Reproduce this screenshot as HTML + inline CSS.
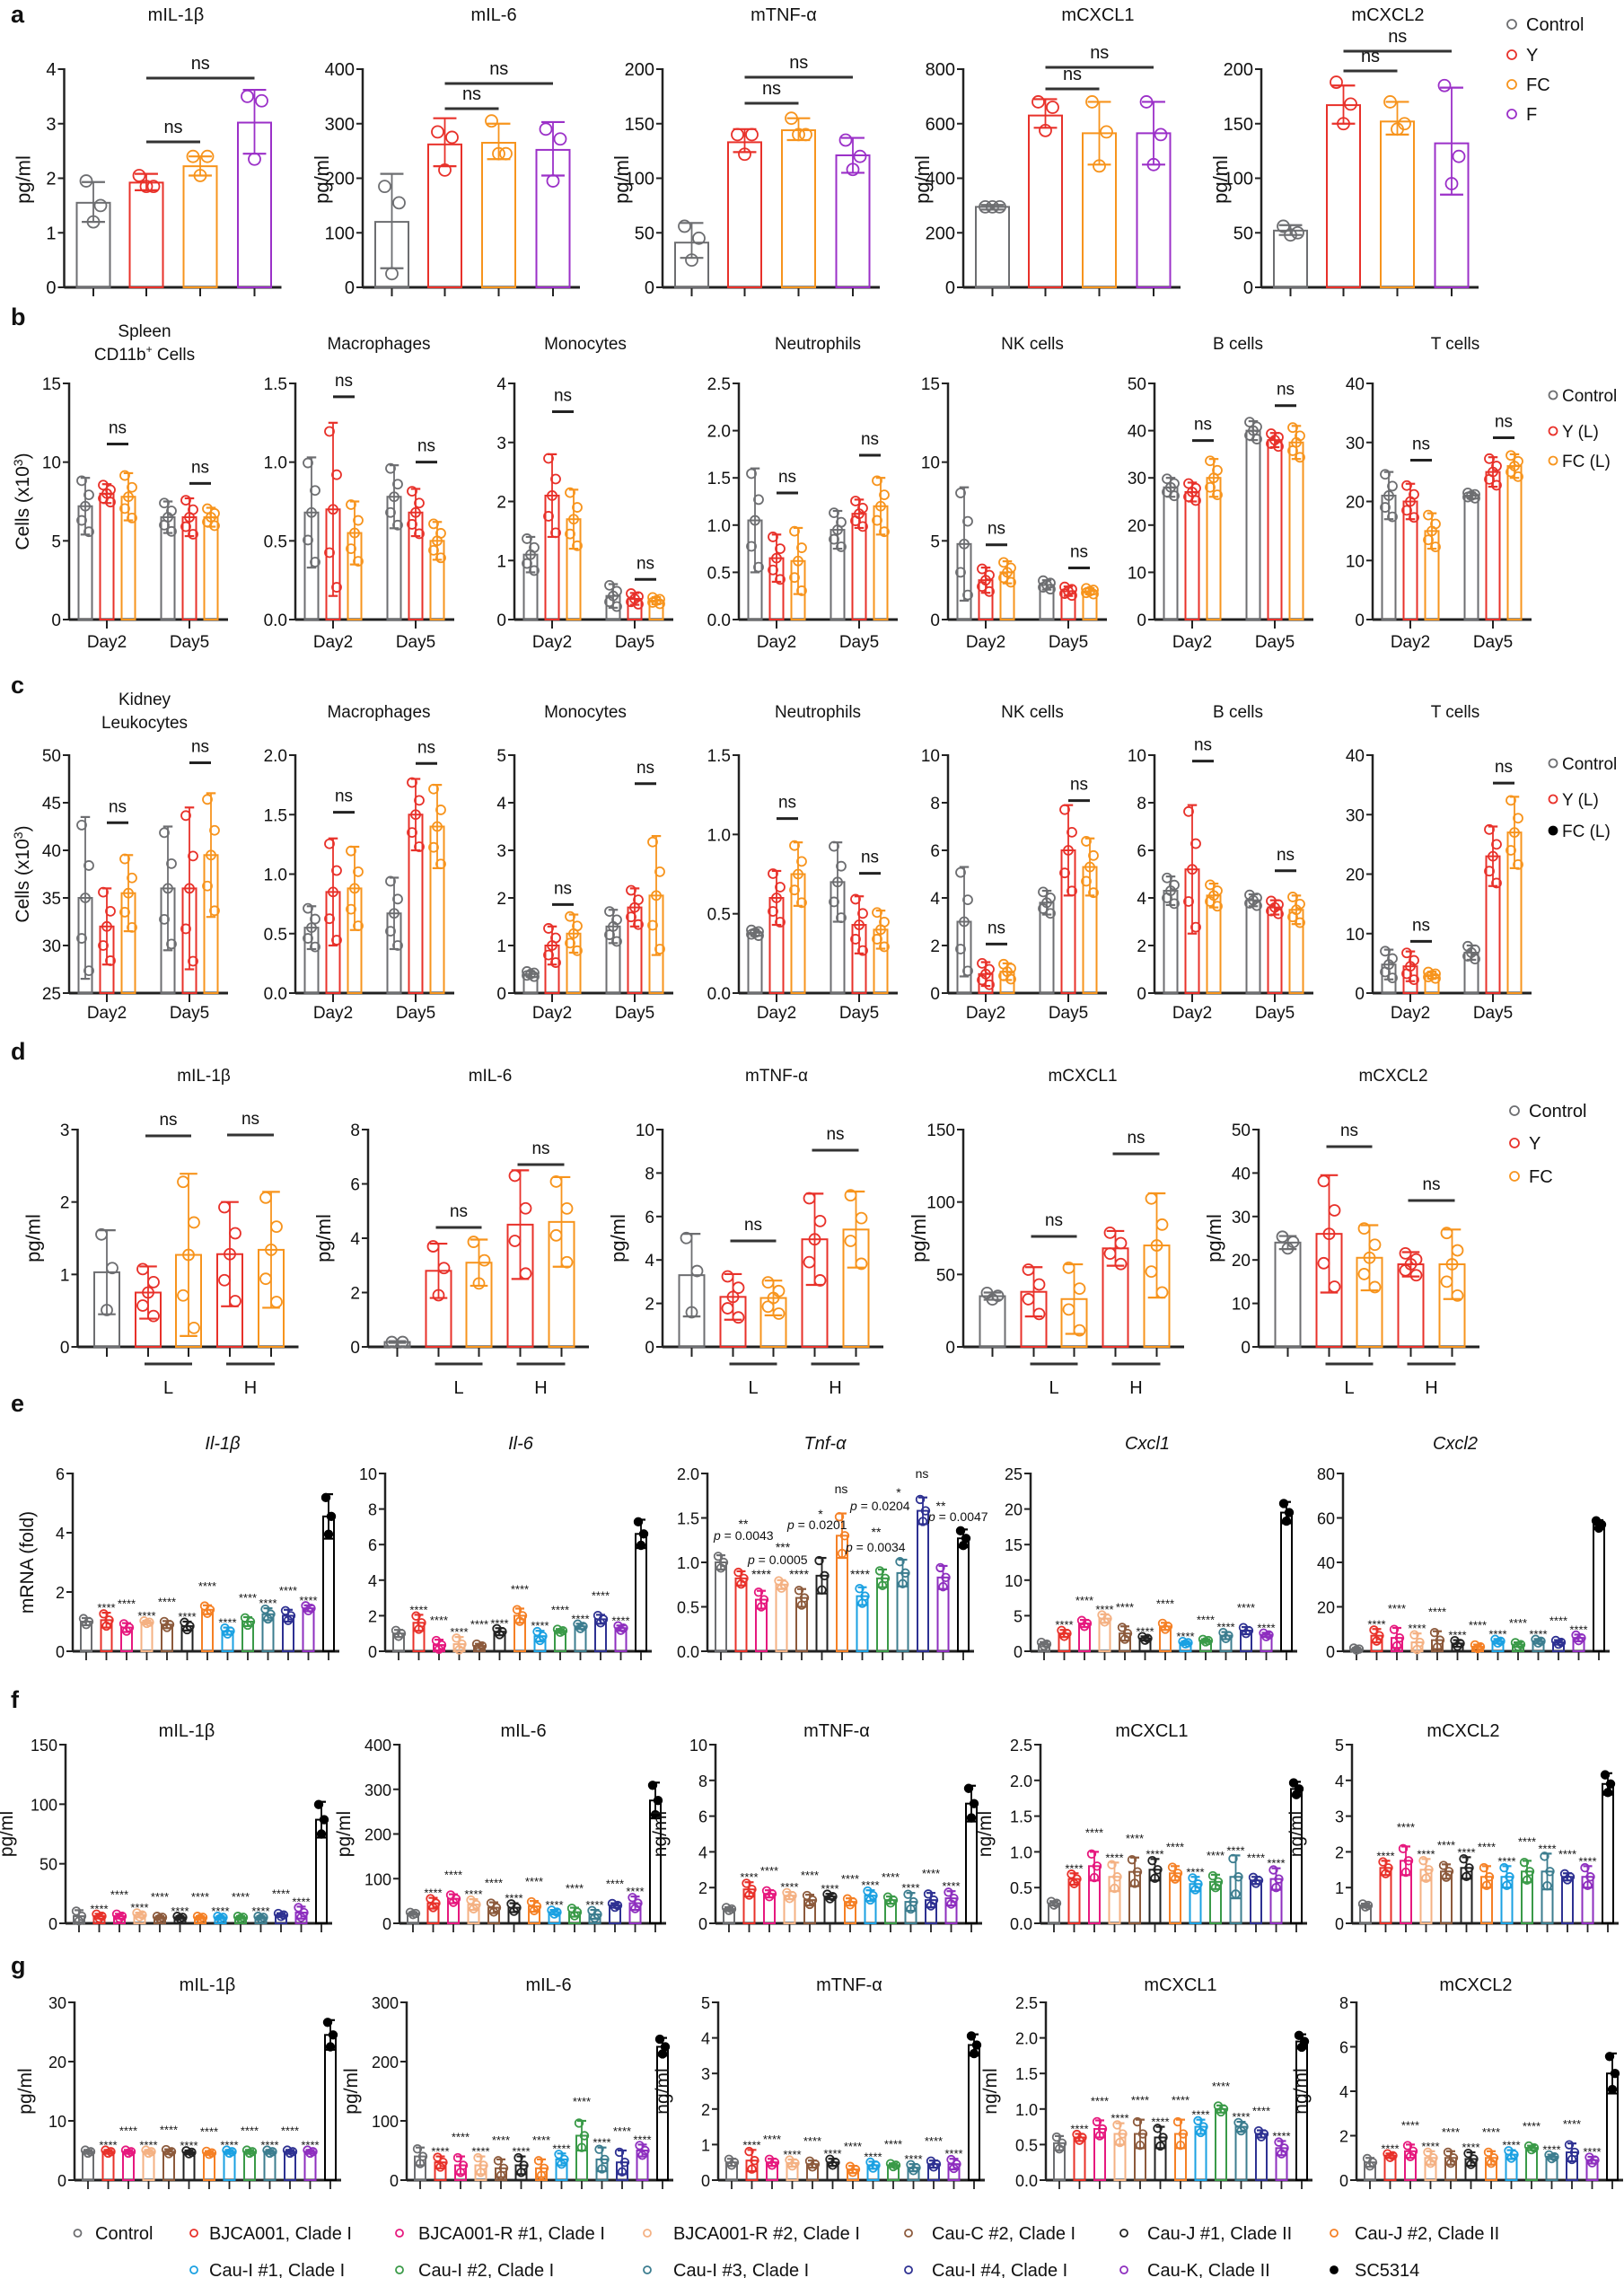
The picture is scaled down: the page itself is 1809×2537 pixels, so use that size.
<!DOCTYPE html>
<html><head><meta charset="utf-8">
<style>
html,body{margin:0;padding:0;background:#fff;}
svg{display:block;}
text{font-family:"Liberation Sans",Arial,sans-serif;fill:#111;}
</style></head>
<body>
<div id="root"></div>
<script>
const S=[];
function ln(x1,y1,x2,y2,c,w){S.push(`<line x1="${x1}" y1="${y1}" x2="${x2}" y2="${y2}" stroke="${c||'#222'}" stroke-width="${w||2}"/>`);}
function tx(x,y,s,o){o=o||{};S.push(`<text x="${x}" y="${y}" font-size="${o.fs||19}" text-anchor="${o.a||'middle'}"${o.it?' font-style="italic"':''}${o.b?' font-weight="bold"':''}${o.rot?` transform="rotate(-90 ${x} ${y})"`:''}>${s}</text>`);}
function ci(x,y,r,c,f){S.push(`<circle cx="${x}" cy="${y}" r="${r}" fill="${f?c:'none'}" stroke="${c}" stroke-width="1.8"/>`);}
function axes(P){
  const Y=v=>P.bot-(v-P.min)/(P.max-P.min)*(P.bot-P.top);
  P.Y=Y;
  ln(P.ax,P.top-1,P.ax,P.bot,'#222',2.5);
  ln(P.ax,P.bot,P.right,P.bot,'#222',3);
  P.ticks.forEach(t=>{const y=Y(t);ln(P.ax-7,y,P.ax,y,'#222',2);tx(P.ax-9,y+7,t.toFixed(P.dec||0),{a:'end',fs:P.fs||19});});
}
function bar(P,x,w,v,lo,hi,c,pts,r,fill,xj){
  const Y=P.Y;const y=Y(v);
  S.push(`<rect x="${x-w/2}" y="${y}" width="${w}" height="${P.bot-y}" fill="none" stroke="${c}" stroke-width="2"/>`);
  lo=Math.max(lo,P.min);
  ln(x,Y(hi),x,Y(lo),c,1.8);const cw=Math.max(w*0.35,5);
  ln(x-cw,Y(hi),x+cw,Y(hi),c,2.2);ln(x-cw,Y(lo),x+cw,Y(lo),c,2.2);
  pts.forEach((p,i)=>ci(x+(xj?xj[i]:0),Y(Math.max(p,P.min)),r,c,fill));
}
function gp(v,e,n){const f={2:[0,0],3:[0.9,0.1,-0.9],4:[0.9,0.3,-0.3,-0.9],5:[0.9,0.4,0,-0.5,-0.9]}[n];return f.map(k=>v+k*e);}
function gj(n,s){return ({2:[-1,1],3:[-1,1,0],4:[-1,1,-1,1],5:[-1,1,0,-1,1]}[n]).map(k=>k*s);}
function range(a,b,s){const r=[];for(let v=a;v<=b+1e-9;v+=s)r.push(Math.round(v*1000)/1000);return r;}

// letters
[['a',25],['b',362],['c',772],['d',1180],['e',1572],['f',1902],['g',2198]].forEach(([l,y])=>tx(12,y,l,{a:'start',fs:27,b:1}));

// ===== Row a =====
const CA=['#6d6e71','#e8312a','#f7941d','#9b30c8'];
const A=[
 {ax:71.5,min:0,max:4,ticks:range(0,4,1),t:'mIL-1β',tx:196,br:[158,87],
  b:[[1.55,1.2,1.93,[1.95,1.5,1.2]],[1.92,1.78,2.08,[2.05,1.85,1.85]],[2.22,2.05,2.4,[2.4,2.4,2.05]],[3.02,2.45,3.62,[3.5,3.42,2.35]]]},
 {ax:404,min:0,max:400,ticks:range(0,400,100),t:'mIL-6',tx:550,br:[121,93],
  b:[[120,35,208,[185,155,25]],[262,222,310,[285,275,215]],[265,235,300,[305,245,245]],[252,205,303,[290,272,195]]]},
 {ax:738,min:0,max:200,ticks:range(0,200,50),t:'mTNF-α',tx:873,br:[115,86],
  b:[[41,27,59,[56,45,25]],[133,124,145,[140,140,122]],[144,135,155,[155,140,140]],[121,105,137,[135,120,108]]]},
 {ax:1073,min:0,max:800,ticks:range(0,800,200),t:'mCXCL1',tx:1223,br:[99,75],
  b:[[295,285,302,[295,295,295]],[630,585,690,[680,660,575]],[565,450,680,[680,570,445]],[565,450,680,[680,560,450]]]},
 {ax:1405,min:0,max:200,ticks:range(0,200,50),t:'mCXCL2',tx:1546,br:[79,57],
  b:[[52,48,57,[56,50,48]],[167,150,185,[188,168,150]],[152,140,170,[170,150,145]],[132,85,183,[185,120,95]]]}
];
const aOff=[32.5,91.5,151.5,212];
A.forEach(p=>{
  const P={ax:p.ax,top:77,bot:320,right:p.ax+242,min:p.min,max:p.max,ticks:p.ticks,fs:20};
  axes(P);
  tx(p.tx,23,p.t,{fs:20});
  tx(p.ax-38,200,'pg/ml',{rot:1,fs:22});
  p.b.forEach((d,i)=>{const x=p.ax+aOff[i];ln(x,320,x,330,'#222',2);bar(P,x,37,d[0],d[1],d[2],CA[i],d[3],6.5,false,[-8,8,0]);});
  const x1=p.ax+aOff[1],x2=p.ax+aOff[2],x3=p.ax+aOff[3];
  ln(x1,p.br[0],x2,p.br[0],'#333',3);tx((x1+x2)/2,p.br[0]-10,'ns',{fs:20});
  ln(x1,p.br[1],x3,p.br[1],'#333',3);tx((x1+x3)/2,p.br[1]-10,'ns',{fs:20});
});
[['Control',27,CA[0]],['Y',61,CA[1]],['FC',94,CA[2]],['F',127,CA[3]]].forEach(([s,y,c])=>{ci(1684,y,5,c);tx(1700,y+7,s,{a:'start',fs:20});});

// ===== Rows b, c =====
const BC=['#6d6e71','#e8312a','#f7941d'];
const bAx=[77,329,573,823,1056,1286,1529];
const bT=[161,422,652,911,1150,1379,1621];
const B=[
 {min:0,max:15,ticks:range(0,15,5),d:[[[7.2,1.8],[8.0,0.6],[7.8,1.5]],[[6.5,1.0],[6.5,1.2],[6.5,0.6]]],br:[11.15,8.65]},
 {min:0,max:1.5,ticks:range(0,1.5,.5),dec:1,d:[[[0.68,0.35],[0.7,0.55],[0.55,0.2]],[[0.78,0.2],[0.68,0.15],[0.5,0.12]]],br:[1.415,1.0]},
 {min:0,max:4,ticks:range(0,4,1),d:[[[1.1,0.3],[2.1,0.7],[1.7,0.5]],[[0.4,0.2],[0.35,0.1],[0.32,0.06]]],br:[3.52,0.68]},
 {min:0,max:2.5,ticks:range(0,2.5,.5),dec:1,d:[[[1.05,0.55],[0.65,0.25],[0.62,0.35]],[[0.95,0.2],[1.12,0.15],[1.2,0.3]]],br:[1.34,1.74]},
 {min:0,max:15,ticks:range(0,15,5),d:[[[4.8,3.6],[2.5,0.8],[3.0,0.7]],[[2.2,0.3],[1.8,0.3],[1.8,0.2]]],br:[4.75,3.28]},
 {min:0,max:50,ticks:range(0,50,10),d:[[[28,2],[27,2],[30,4]],[[40,2],[38,1.5],[37.5,3.5]]],br:[37.9,45.3]},
 {min:0,max:40,ticks:range(0,40,10),d:[[[21,4],[20,3],[15,3]],[[21,0.5],[25,2.5],[26,2]]],br:[27,30.8]}
];
const C=[
 {min:25,max:50,ticks:range(25,50,5),d:[[[35,8.5],[32,4],[35.5,4]],[[36,6.5],[36,8.5],[39.5,6.5]]],br:[42.9,49.2]},
 {min:0,max:2,ticks:range(0,2,.5),dec:1,d:[[[0.55,0.18],[0.85,0.45],[0.88,0.35]],[[0.67,0.3],[1.5,0.3],[1.4,0.35]]],br:[1.52,1.93]},
 {min:0,max:5,ticks:range(0,5,1),d:[[[0.4,0.06],[1.0,0.4],[1.25,0.4]],[[1.4,0.35],[1.8,0.4],[2.05,1.25]]],br:[1.86,4.4]},
 {min:0,max:1.5,ticks:range(0,1.5,.5),dec:1,d:[[[0.38,0.02],[0.6,0.17],[0.75,0.2]],[[0.7,0.25],[0.43,0.18],[0.4,0.12]]],br:[1.1,0.755]},
 {min:0,max:10,ticks:range(0,10,2),d:[[[3.0,2.3],[0.8,0.5],[0.9,0.35]],[[3.8,0.5],[6.0,1.9],[5.3,1.2]]],br:[2.06,8.09]},
 {min:0,max:10,ticks:range(0,10,2),d:[[[4.3,0.6],[5.2,2.7],[4.1,0.5]],[[3.9,0.25],[3.6,0.3],[3.5,0.6]]],br:[9.75,5.14]},
 {min:0,max:40,ticks:range(0,40,10),d:[[[4.8,2.5],[4.5,2.5],[3.0,0.6]],[[6.8,1.2],[23,5],[27,6]]],br:[8.7,35.3]}
];
const bOff=[18,42,66,110,134,158];
function rowBC(D,top,bot,ty,dy,titles,ylab){
  D.forEach((p,k)=>{
    const ax=bAx[k];
    const P={ax:ax,top:top,bot:bot,right:ax+177,min:p.min,max:p.max,ticks:p.ticks,dec:p.dec,fs:19};
    axes(P);
    if(titles[k].length==2){tx(bT[k],ty-14,titles[k][0]);tx(bT[k],ty+12,titles[k][1]);}
    else tx(bT[k],ty,titles[k][0]);
    [0,1].forEach(g=>{
      const gc=ax+(g?134:42);ln(gc,bot,gc,bot+10,'#222',2);tx(gc,dy,g?'Day5':'Day2');
      p.d[g].forEach((d,i)=>{const x=ax+bOff[g*3+i];bar(P,x,15,d[0],d[0]-d[1],d[0]+d[1],BC[i],gp(d[0],d[1],5),5,false,gj(5,4));});
      const x1=ax+bOff[g*3+1],x2=ax+bOff[g*3+2];const y=P.Y(p.br[g]);
      ln(x1,y,x2,y,'#222',3);tx((x1+x2)/2,y-12,'ns');
    });
  });
  tx(32,(top+bot)/2,ylab,{rot:1,fs:21});
}
rowBC(B,427,690,389,721,[['Spleen','CD11b<tspan font-size="12" dy="-8">+</tspan><tspan dy="8"> Cells</tspan>'],['Macrophages'],['Monocytes'],['Neutrophils'],['NK cells'],['B cells'],['T cells']],'Cells (x10<tspan font-size="14" dy="-7">3</tspan><tspan dy="7">)</tspan>');
rowBC(C,841,1106,799,1134,[['Kidney','Leukocytes'],['Macrophages'],['Monocytes'],['Neutrophils'],['NK cells'],['B cells'],['T cells']],'Cells (x10<tspan font-size="14" dy="-7">3</tspan><tspan dy="7">)</tspan>');
[['Control',440,BC[0],0],['Y (L)',480,BC[1],0],['FC (L)',513,BC[2],0]].forEach(([s,y,c])=>{ci(1730,y,4.5,c);tx(1740,y+7,s,{a:'start'});});
[['Control',850,BC[0],0],['Y (L)',890,BC[1],0],['FC (L)',925,'#000',1]].forEach(([s,y,c,f])=>{ci(1730,y,4.5,c,f);tx(1740,y+7,s,{a:'start'});});

// ===== Row d =====
const DC=['#6d6e71','#e8312a','#f7941d','#e8312a','#f7941d'];
const dAx=[86.5,410,738,1073,1402],dT=[227,546,865,1206,1552],dTit=['mIL-1β','mIL-6','mTNF-α','mCXCL1','mCXCL2'];
const D=[
 {min:0,max:3,ticks:range(0,3,1),d:[[1.03,0.58,3],[0.75,0.36,5],[1.27,1.12,5],[1.28,0.72,5],[1.34,0.8,5]],br:[1265,1264]},
 {min:0,max:8,ticks:range(0,8,2),d:[[0.18,0.03,2],[2.8,1.0,3],[3.1,0.85,3],[4.5,2.0,4],[4.6,1.65,4]],br:[1367,1297]},
 {min:0,max:10,ticks:range(0,10,2),d:[[3.3,1.9,3],[2.3,1.05,5],[2.25,0.8,5],[4.95,2.1,5],[5.4,1.75,4]],br:[1382,1281]},
 {min:0,max:150,ticks:range(0,150,50),d:[[35,2.5,3],[38,17,4],[33,24,4],[68,12,4],[70,36,5]],br:[1377,1285]},
 {min:0,max:50,ticks:range(0,50,10),d:[[24,1.5,3],[26,13.5,5],[20.5,7.5,5],[19,2.8,5],[19,8,5]],br:[1277,1337]}
];
const dOff=[32.5,78.5,123.5,169.5,215.5];
D.forEach((p,k)=>{
  const ax=dAx[k];
  const P={ax:ax,top:1258,bot:1500,right:ax+246,min:p.min,max:p.max,ticks:p.ticks,fs:19};
  axes(P);tx(dT[k],1204,dTit[k]);tx(ax-42,1379,'pg/ml',{rot:1,fs:22});
  p.d.forEach((d,i)=>{const x=ax+dOff[i];ln(x,1500,x,1511,'#222',2);bar(P,x,28,d[0],d[0]-d[1],d[0]+d[1],DC[i],gp(d[0],d[1],d[2]),6,false,gj(d[2],6));});
  [[1,2,'L'],[3,4,'H']].forEach(([i,j,l],g)=>{
    const x1=ax+dOff[i]-4,x2=ax+dOff[j]+4;ln(x1,1519,x2,1519,'#333',3);tx((x1+x2)/2,1552,l,{fs:20});
    const y=p.br[g];const a1=ax+dOff[i]-3,a2=ax+dOff[j]+3;ln(a1,y,a2,y,'#333',3);tx((a1+a2)/2,y-12,'ns');
  });
});
[['Control',1237,DC[0]],['Y',1273,DC[1]],['FC',1310,DC[2]]].forEach(([s,y,c])=>{ci(1687,y,5,c);tx(1703,y+7,s,{a:'start',fs:20});});

// ===== Rows e, f, g =====
const SC=['#6d6e71','#e8312a','#e6197e','#f4b183','#8c5a3c','#222222','#f58025','#1ba1e2','#3a9a48','#3c7d8f','#2e3192','#8e2fbf','#000000'];
function row13(axs,top,bot,titles,tys,txs,defs,ylabs,it){
  defs.forEach((p,k)=>{
    const ax=axs[k];
    const P={ax:ax,top:top,bot:bot,right:ax+297,min:p.min,max:p.max,ticks:p.ticks,dec:p.dec,fs:18};
    axes(P);tx(txs[k],tys,titles[k],{fs:20,it:it});
    if(ylabs[k])tx(ylabs[k][1]!=null?ylabs[k][1]:ax-55,(top+bot)/2,ylabs[k][0],{rot:1,fs:21});
    p.d.forEach((d,i)=>{
      const x=ax+15+22.5*i;ln(x,bot,x,bot+10,'#222',1.8);
      const c=SC[i];const last=i==12;
      bar(P,x,12,d[0],d[0]-d[1],d[0]+d[1],c,[d[0]+d[1]*0.85,d[0],d[0]-d[1]*0.8],4.3,last,[-3,3,0]);
      if(!p.noStar&&i>0&&i<12){const y=P.Y(d[0]+d[1])-7-(i%2==0?16:0);tx(x,y+6,'****',{fs:13});}
    });
  });
}
row13([81,429,788,1148,1496],1641,1839,['Il-1β','Il-6','Tnf-α','Cxcl1','Cxcl2'],1614,[248,580,919,1278,1621],[
 {min:0,max:6,ticks:range(0,6,2),d:[[1,.12],[1.05,.25],[0.8,.15],[0.98,.05],[0.9,.12],[0.85,.15],[1.4,.15],[0.68,.12],[1.0,.15],[1.25,.2],[1.2,.2],[1.45,.1],[4.55,.75]]},
 {min:0,max:10,ticks:range(0,10,2),d:[[1,.2],[1.6,.45],[0.35,.3],[0.4,.4],[0.3,.12],[1.1,.2],[2.0,.4],[0.85,.3],[1.15,.1],[1.4,.15],[1.8,.25],[1.3,.15],[6.6,.8]]},
 {min:0,max:2,ticks:range(0,2,.5),dec:1,noStar:1,d:[[1.0,.08],[0.82,.08],[0.58,.1],[0.75,.05],[0.6,.1],[0.85,.2],[1.3,.25],[0.62,.1],[0.82,.1],[0.88,.15],[1.58,.15],[0.83,.13],[1.27,.1]]},
 {min:0,max:25,ticks:range(0,25,5),d:[[1,.3],[2.5,.5],[3.9,.5],[4.6,.6],[2.5,1.0],[1.8,.3],[3.5,.5],[1.2,.2],[1.5,.2],[2.2,.5],[2.9,.5],[2.3,.3],[19.5,1.5]]},
 {min:0,max:80,ticks:range(0,80,20),d:[[1,.5],[7,3],[6,4.5],[4,4],[5,4],[3.5,1.5],[2,1],[4.5,1],[3,1],[4.5,1],[4,1],[6,1.5],[57,2]]}
],[['mRNA (fold)',37],null,null,null,null],true);
// Tnf-a annotations
[[828,1702,'**'],[795,1715,'p = 0.0043','s'],[872,1728,'***'],[833,1742,'p = 0.0005','s'],[848,1758,'****'],[890,1758,'****'],
 [914,1691,'*'],[877,1703,'p = 0.0201','s'],[937,1663,'ns'],[958,1758,'****'],[976,1711,'**'],[942,1728,'p = 0.0034','s'],
 [1001,1667,'*'],[947,1682,'p = 0.0204','s'],[1027,1646,'ns'],[1048,1682,'**'],[1034,1694,'p = 0.0047','s']].forEach(a=>{
  if(a[3])S.push(`<text x="${a[0]}" y="${a[1]}" font-size="14" text-anchor="start"><tspan font-style="italic">p</tspan>${a[2].slice(1)}</text>`);
  else tx(a[0],a[1],a[2],{fs:14});
});
row13([73,445,797,1159,1506],1943,2142,['mIL-1β','mIL-6','mTNF-α','mCXCL1','mCXCL2'],1934,[208,583,932,1283,1630],[
 {min:0,max:150,ticks:range(0,150,50),d:[[6,5],[6,2],[6,2],[7,2],[5,1],[5,1],[5,1],[5,1],[5,1],[5,1],[7,1.5],[9,5],[87,15]]},
 {min:0,max:400,ticks:range(0,400,100),d:[[22,3],[45,12],[55,10],[42,12],[35,12],[35,10],[38,12],[25,5],[25,10],[20,10],[40,5],[45,15],[275,40]]},
 {min:0,max:10,ticks:range(0,10,2),d:[[0.8,.1],[1.9,.4],[1.65,.2],[1.55,.2],[1.3,.3],[1.5,.15],[1.2,.2],[1.55,.3],[1.3,.2],[1.2,.5],[1.3,.4],[1.4,.4],[6.7,1]]},
 {min:0,max:2.5,ticks:range(0,2.5,.5),dec:1,d:[[0.28,.03],[0.62,.08],[0.8,.2],[0.65,.2],[0.72,.2],[0.75,.15],[0.7,.1],[0.55,.1],[0.58,.1],[0.65,.3],[0.6,.05],[0.62,.15],[1.88,.1]]},
 {min:0,max:5,ticks:range(0,5,1),d:[[0.5,.05],[1.55,.2],[1.75,.4],[1.5,.3],[1.45,.2],[1.55,.3],[1.3,.3],[1.3,.3],[1.45,.3],[1.45,.5],[1.3,.1],[1.3,.3],[3.9,.3]]}
],[['pg/ml',14],['pg/ml'],['ng/ml'],['ng/ml'],['ng/ml']],false);
row13([83,453,800,1165,1511],2230,2428,['mIL-1β','mIL-6','mTNF-α','mCXCL1','mCXCL2'],2217,[231,611,946,1315,1644],[
 {min:0,max:30,ticks:range(0,30,10),d:[[4.8,.3],[4.8,.3],[4.8,.3],[4.8,.3],[4.8,.4],[4.7,.3],[4.6,.3],[4.8,.3],[4.8,.3],[4.8,.3],[4.8,.3],[4.8,.3],[24.5,2.5]]},
 {min:0,max:300,ticks:range(0,300,100),d:[[40,15],[30,10],[25,15],[25,15],[20,15],[25,15],[20,15],[35,10],[75,25],[35,20],[30,20],[50,10],[225,15]]},
 {min:0,max:5,ticks:range(0,5,1),d:[[0.5,.1],[0.55,.3],[0.5,.1],[0.48,.1],[0.45,.1],[0.5,.1],[0.3,.1],[0.42,.1],[0.42,.05],[0.35,.1],[0.45,.1],[0.45,.15],[3.8,.3]]},
 {min:0,max:2.5,ticks:range(0,2.5,.5),dec:1,d:[[0.52,.1],[0.6,.05],[0.72,.12],[0.65,.15],[0.65,.2],[0.6,.15],[0.65,.2],[0.75,.1],[1.0,.05],[0.75,.07],[0.65,.05],[0.45,.1],[1.95,.1]]},
 {min:0,max:8,ticks:range(0,8,2),d:[[0.8,.2],[1.1,.1],[1.3,.3],[1.0,.3],[1.0,.3],[0.95,.3],[1.0,.3],[1.15,.2],[1.45,.1],[1.05,.1],[1.25,.4],[0.9,.15],[4.8,.9]]}
],[['pg/ml',35],['pg/ml'],['ng/ml'],['ng/ml'],['ng/ml']],false);

// bottom legend
const LG=[[86.5,106,2487,'Control',0],[216,233,2487,'BJCA001, Clade I',1],[445,466,2487,'BJCA001-R #1, Clade I',2],[721,750,2487,'BJCA001-R #2, Clade I',3],[1012,1038,2487,'Cau-C #2, Clade I',4],[1252,1278,2487,'Cau-J #1, Clade II',5],[1486,1509,2487,'Cau-J #2, Clade II',6],
 [216,233,2528,'Cau-I #1, Clade I',7],[445,466,2528,'Cau-I #2, Clade I',8],[721,750,2528,'Cau-I #3, Clade I',9],[1012,1038,2528,'Cau-I #4, Clade I',10],[1252,1278,2528,'Cau-K, Clade II',11],[1486,1509,2528,'SC5314',12]];
LG.forEach(([cx,tx0,y,s,i])=>{ci(cx,y,4,SC[i],i==12);tx(tx0,y+7,s,{a:'start',fs:20});});

document.getElementById('root').innerHTML=`<svg xmlns="http://www.w3.org/2000/svg" width="1809" height="2537" viewBox="0 0 1809 2537">`+S.join('')+`</svg>`;
</script>
</body></html>
